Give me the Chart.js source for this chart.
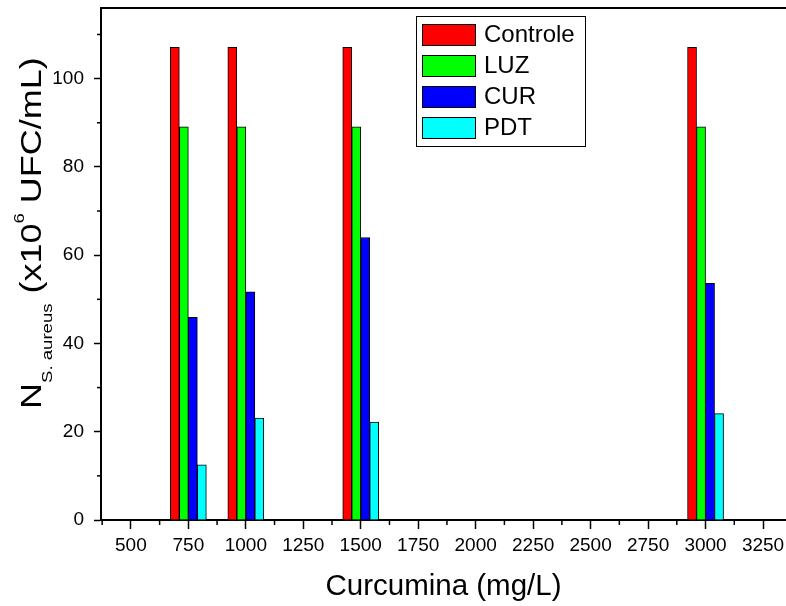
<!DOCTYPE html>
<html><head><meta charset="utf-8">
<script src="https://cdn.jsdelivr.net/npm/chart.js@4/dist/chart.umd.min.js"></script>
<style>html,body{margin:0;padding:0;background:#fff}canvas{display:block}</style>
</head><body>
<canvas id="c" width="786" height="606"></canvas>
<script>
// ---- data ----
const concentrations = [750, 1000, 1500, 3000];
const seriesNames = ['Controle', 'LUZ', 'CUR', 'PDT'];
const controle = [107.1, 107.1, 107.1, 107.1];
const luz = [89.1, 89.1, 89.1, 89.1];
const cur = [45.9, 51.7, 64.0, 53.6];
const pdt = [12.5, 23.1, 22.2, 24.1];
const seriesColors = ['#ff0000', '#00ff00', '#0000ff', '#00ffff'];
const xTickValues = [500, 750, 1000, 1250, 1500, 1750, 2000, 2250, 2500, 2750, 3000, 3250];
const xMinorTicks = [375, 625, 875, 1125, 1375, 1625, 1875, 2125, 2375, 2625, 2875, 3125];
const yTickValues = [0, 20, 40, 60, 80, 100];
const yMinorTicks = [10, 30, 50, 70, 90, 110];
const yTitleParts = [
  {t: 'N', k: 'main'}, {t: 'S. aureus', k: 'sub'}, {t: ' (x10', k: 'main'},
  {t: '6', k: 'sup'}, {t: ' UFC/mL)', k: 'main'}
];
const FAM = "'Liberation Sans', Arial, sans-serif";

const seriesValues = [controle, luz, cur, pdt];
const datasets = seriesNames.map((name, i) => ({
  label: name,
  data: concentrations.map((x, j) => ({x: x, y: seriesValues[i][j]})),
  backgroundColor: seriesColors[i],
  borderColor: '#000',
  borderWidth: 1,
  barThickness: 9,
  grouped: true
}));

const extras = {
  id: 'extras',
  afterDraw(chart) {
    const ctx = chart.ctx;
    const xs = chart.scales.x, ys = chart.scales.y;
    const ca = chart.chartArea;
    ctx.save();
    ctx.strokeStyle = '#000';
    // top frame line
    ctx.lineWidth = 2;
    ctx.beginPath(); ctx.moveTo(ca.left - 1, ca.top); ctx.lineTo(ca.right, ca.top); ctx.stroke();
    // minor ticks
    ctx.lineWidth = 1.5;
    xMinorTicks.forEach(v => {
      const px = xs.getPixelForValue(v);
      if (px < ca.left - 0.5 || px > ca.right) return;
      ctx.beginPath(); ctx.moveTo(px, ca.bottom); ctx.lineTo(px, ca.bottom + 5); ctx.stroke();
    });
    yMinorTicks.forEach(v => {
      const py = ys.getPixelForValue(v);
      ctx.beginPath(); ctx.moveTo(ca.left, py); ctx.lineTo(ca.left - 4, py); ctx.stroke();
    });
    // y title with subscript / superscript (rotated, slightly stretched along its length)
    ctx.translate(41, 409);
    ctx.rotate(-Math.PI / 2);
    ctx.scale(1.24, 1);
    ctx.fillStyle = '#000';
    ctx.textBaseline = 'alphabetic';
    let u = 0;
    yTitleParts.forEach(p => {
      const size = p.k === 'main' ? 29 : 15;
      const dv = p.k === 'sub' ? 11 : (p.k === 'sup' ? -17 : 0);
      ctx.font = size + 'px ' + FAM;
      ctx.fillText(p.t, u, dv);
      u += ctx.measureText(p.t).width;
    });
    ctx.setTransform(1, 0, 0, 1, 0, 0);
    // legend
    const lx = 416, ly = 16, lw = 169, lh = 130;
    ctx.lineWidth = 1;
    ctx.strokeStyle = '#000';
    ctx.fillStyle = '#fff';
    ctx.fillRect(lx, ly, lw, lh);
    ctx.strokeRect(lx + 0.5, ly + 0.5, lw, lh);
    ctx.font = '24px ' + FAM;
    ctx.textBaseline = 'middle';
    chart.data.datasets.forEach((ds, i) => {
      const ry = 24 + i * 31;
      ctx.fillStyle = ds.backgroundColor;
      ctx.fillRect(422, ry, 53, 21);
      ctx.strokeRect(422.5, ry + 0.5, 53, 21);
      ctx.fillStyle = '#000';
      ctx.fillText(ds.label, 484, ry + 11.5);
    });
    ctx.restore();
  }
};

new Chart(document.getElementById('c'), {
  type: 'bar',
  data: {datasets: datasets},
  options: {
    responsive: false,
    animation: false,
    layout: {padding: {top: 8, right: 0, left: 0, bottom: 0}},
    plugins: {legend: {display: false}, tooltip: {enabled: false}},
    scales: {
      x: {
        type: 'linear', min: 370, max: 3350, offset: false,
        afterBuildTicks: s => { s.ticks = xTickValues.map(v => ({value: v})); },
        afterFit: s => { s.height = 86; s.paddingLeft = 0; s.paddingRight = 0; },
        grid: {offset: false, drawOnChartArea: false, drawTicks: true, tickLength: 9, tickWidth: 1.5, tickColor: '#000'},
        border: {display: true, color: '#000', width: 2},
        ticks: {autoSkip: false, maxRotation: 0, minRotation: 0, color: '#000', padding: 5,
                font: {family: FAM, size: 19}, callback: v => String(v)},
        title: {display: true, text: 'Curcumina (mg/L)', color: '#000',
                font: {family: FAM, size: 29.5}, padding: {top: 0, bottom: 1}}
      },
      y: {
        min: 0, max: 116,
        afterBuildTicks: s => { s.ticks = yTickValues.map(v => ({value: v})); },
        afterFit: s => { s.width = 101; s.paddingTop = 0; s.paddingBottom = 0; },
        grid: {offset: false, drawOnChartArea: false, drawTicks: true, tickLength: 7, tickWidth: 1.5, tickColor: '#000'},
        border: {display: true, color: '#000', width: 2},
        ticks: {color: '#000', padding: 10, font: {family: FAM, size: 19}, callback: v => String(v)}
      }
    }
  },
  plugins: [extras]
});
</script>
</body></html>
